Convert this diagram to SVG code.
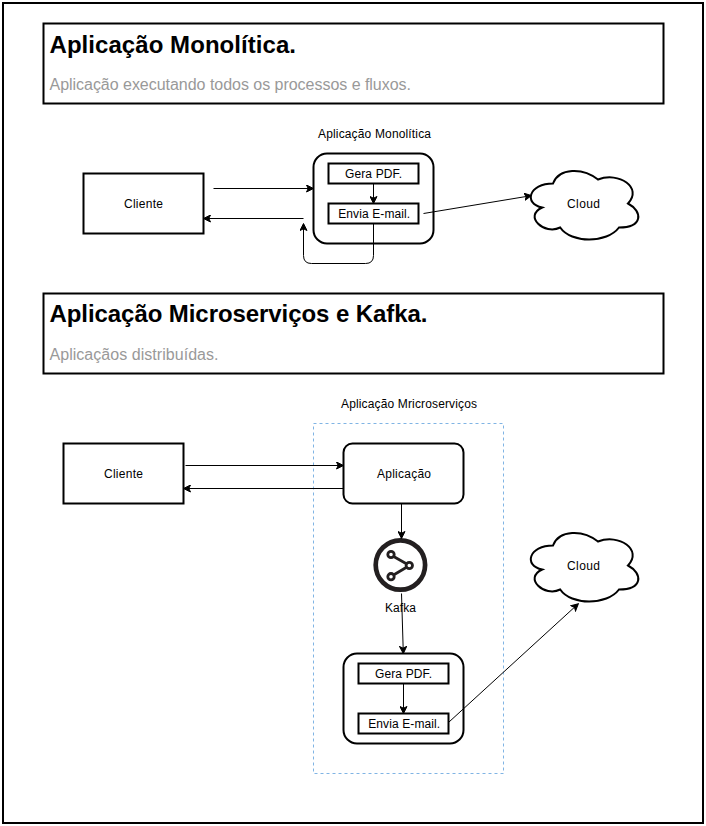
<svg xmlns="http://www.w3.org/2000/svg" width="706" height="826" viewBox="0 0 706 826">
<style>
text{font-family:"Liberation Sans",Arial,Helvetica,sans-serif;font-size:12px;fill:#000;text-anchor:middle}
.box{fill:#fff;stroke:#000;stroke-width:2}
.c{fill:none;stroke:#000;stroke-width:1}
.h{font-size:24px;font-weight:bold;text-anchor:start}
.s{font-size:16px;fill:#999;text-anchor:start}
</style>
<defs>
<marker id="a" viewBox="0 0 8 8" refX="7" refY="4" markerWidth="8" markerHeight="8" markerUnits="userSpaceOnUse" orient="auto"><path d="M0.5 0.5L7.5 4L0.5 7.5L2.2 4Z" fill="#000" stroke="#000" stroke-width="1"/></marker>
<path id="cloud" d="M30 20C6 20 0 40 19.2 44C0 52.8 21.6 72 37.2 64C48 80 84 80 96 64C120 64 120 48 105 40C120 24 96 8 75 16C60 4 36 4 30 20Z"/>
</defs>
<rect width="706" height="826" fill="#fff"/>
<rect id="frame" x="3" y="3" width="700" height="820" fill="none" stroke="#000" stroke-width="2"/>
<g id="header1"><rect class="box" x="43.500" y="23.500" width="620" height="80"/><text class="h" x="49.500" y="53" textLength="246.500">Aplicação Monolítica.</text><text class="s" x="49.500" y="90" textLength="361.500">Aplicação executando todos os processos e fluxos.</text></g>
<g id="header2"><rect class="box" x="43.500" y="293.500" width="620" height="80"/><text class="h" x="49.500" y="322" textLength="378">Aplicação Microserviços e Kafka.</text><text class="s" x="49.500" y="360" textLength="169">Aplicaçãos distribuídas.</text></g>
<g id="title-mono"><text x="374.500" y="138" textLength="113">Aplicação Monolítica</text></g>
<g id="title-micro"><text x="409" y="408" textLength="136">Aplicação Mricroserviços</text></g>
<g id="boundary"><rect x="313.500" y="423.500" width="190" height="350" fill="none" stroke="#80b4e4" stroke-width="1" stroke-dasharray="3 3"/></g>
<g id="cliente1"><rect class="box" x="83.500" y="173.500" width="120" height="60"/><text x="143.500" y="207.500" textLength="39">Cliente</text></g>
<g id="app-mono"><rect class="box" x="313.500" y="153.500" width="120" height="90" rx="13.500"/></g>
<g id="gera1"><rect class="box" x="328.500" y="163.500" width="90" height="20"/><text x="373.500" y="177.500" textLength="57">Gera PDF.</text></g>
<g id="envia1"><rect class="box" x="328.500" y="203.500" width="90" height="20"/><text x="374.200" y="217.500" textLength="72">Envia E-mail.</text></g>
<g id="cloud1"><use href="#cloud" x="523" y="163.500" fill="#fff" stroke="#000" stroke-width="2"/><text x="583.500" y="207.500" textLength="33">Cloud</text></g>
<g id="cliente2"><rect class="box" x="63.500" y="443.500" width="120" height="60"/><text x="123.500" y="477.500" textLength="39">Cliente</text></g>
<g id="aplicacao"><rect class="box" x="343.500" y="443.500" width="120" height="60" rx="9"/><text x="404" y="477.500" textLength="54">Aplicação</text></g>
<g id="kafka"><circle cx="400.400" cy="565" r="24.700" fill="#fff" stroke="#231f20" stroke-width="4.700"/>
<path d="M391 555L409.500 565.500L391 576.500" fill="none" stroke="#231f20" stroke-width="2.800"/>
<circle cx="391" cy="554.500" r="3.200" fill="#fff" stroke="#231f20" stroke-width="2.800"/><circle cx="409.300" cy="565.500" r="3.200" fill="#fff" stroke="#231f20" stroke-width="2.800"/><circle cx="391" cy="576.700" r="3.200" fill="#fff" stroke="#231f20" stroke-width="2.800"/>
<text x="400.500" y="612" textLength="31">Kafka</text></g>
<g id="app-micro"><rect class="box" x="343.500" y="653.500" width="120" height="90" rx="13.500"/></g>
<g id="gera2"><rect class="box" x="358.500" y="663.500" width="90" height="20"/><text x="403.500" y="677.500" textLength="57">Gera PDF.</text></g>
<g id="envia2"><rect class="box" x="358.500" y="713.500" width="90" height="20"/><text x="404.200" y="727.500" textLength="72">Envia E-mail.</text></g>
<g id="cloud2"><use href="#cloud" x="523" y="525.500" fill="#fff" stroke="#000" stroke-width="2"/><text x="583.500" y="569.500" textLength="33">Cloud</text></g>
<g id="connectors" class="c">
<path class="c" d="M213.500 188.500H313" marker-end="url(#a)"/>
<path class="c" d="M303.500 218.500H204" marker-end="url(#a)"/>
<path class="c" d="M373.500 183.500V203" marker-end="url(#a)"/>
<path class="c" d="M373.500 223.500V255.500Q373.500 263.500 365.500 263.500H311.500Q303.500 263.500 303.500 255.500V224" marker-end="url(#a)"/>
<path class="c" d="M423.500 213.500L531 195.700" marker-end="url(#a)"/>
<path class="c" d="M185.500 465.500H343" marker-end="url(#a)"/>
<path class="c" d="M343.500 488.500H184" marker-end="url(#a)"/>
<path class="c" d="M401.500 503.500V538" marker-end="url(#a)"/>
<path class="c" d="M401.500 593.500L403.300 653" marker-end="url(#a)"/>
<path class="c" d="M403.500 683.500V713" marker-end="url(#a)"/>
<path class="c" d="M449 722L578 604" marker-end="url(#a)"/>
</g>
</svg>
